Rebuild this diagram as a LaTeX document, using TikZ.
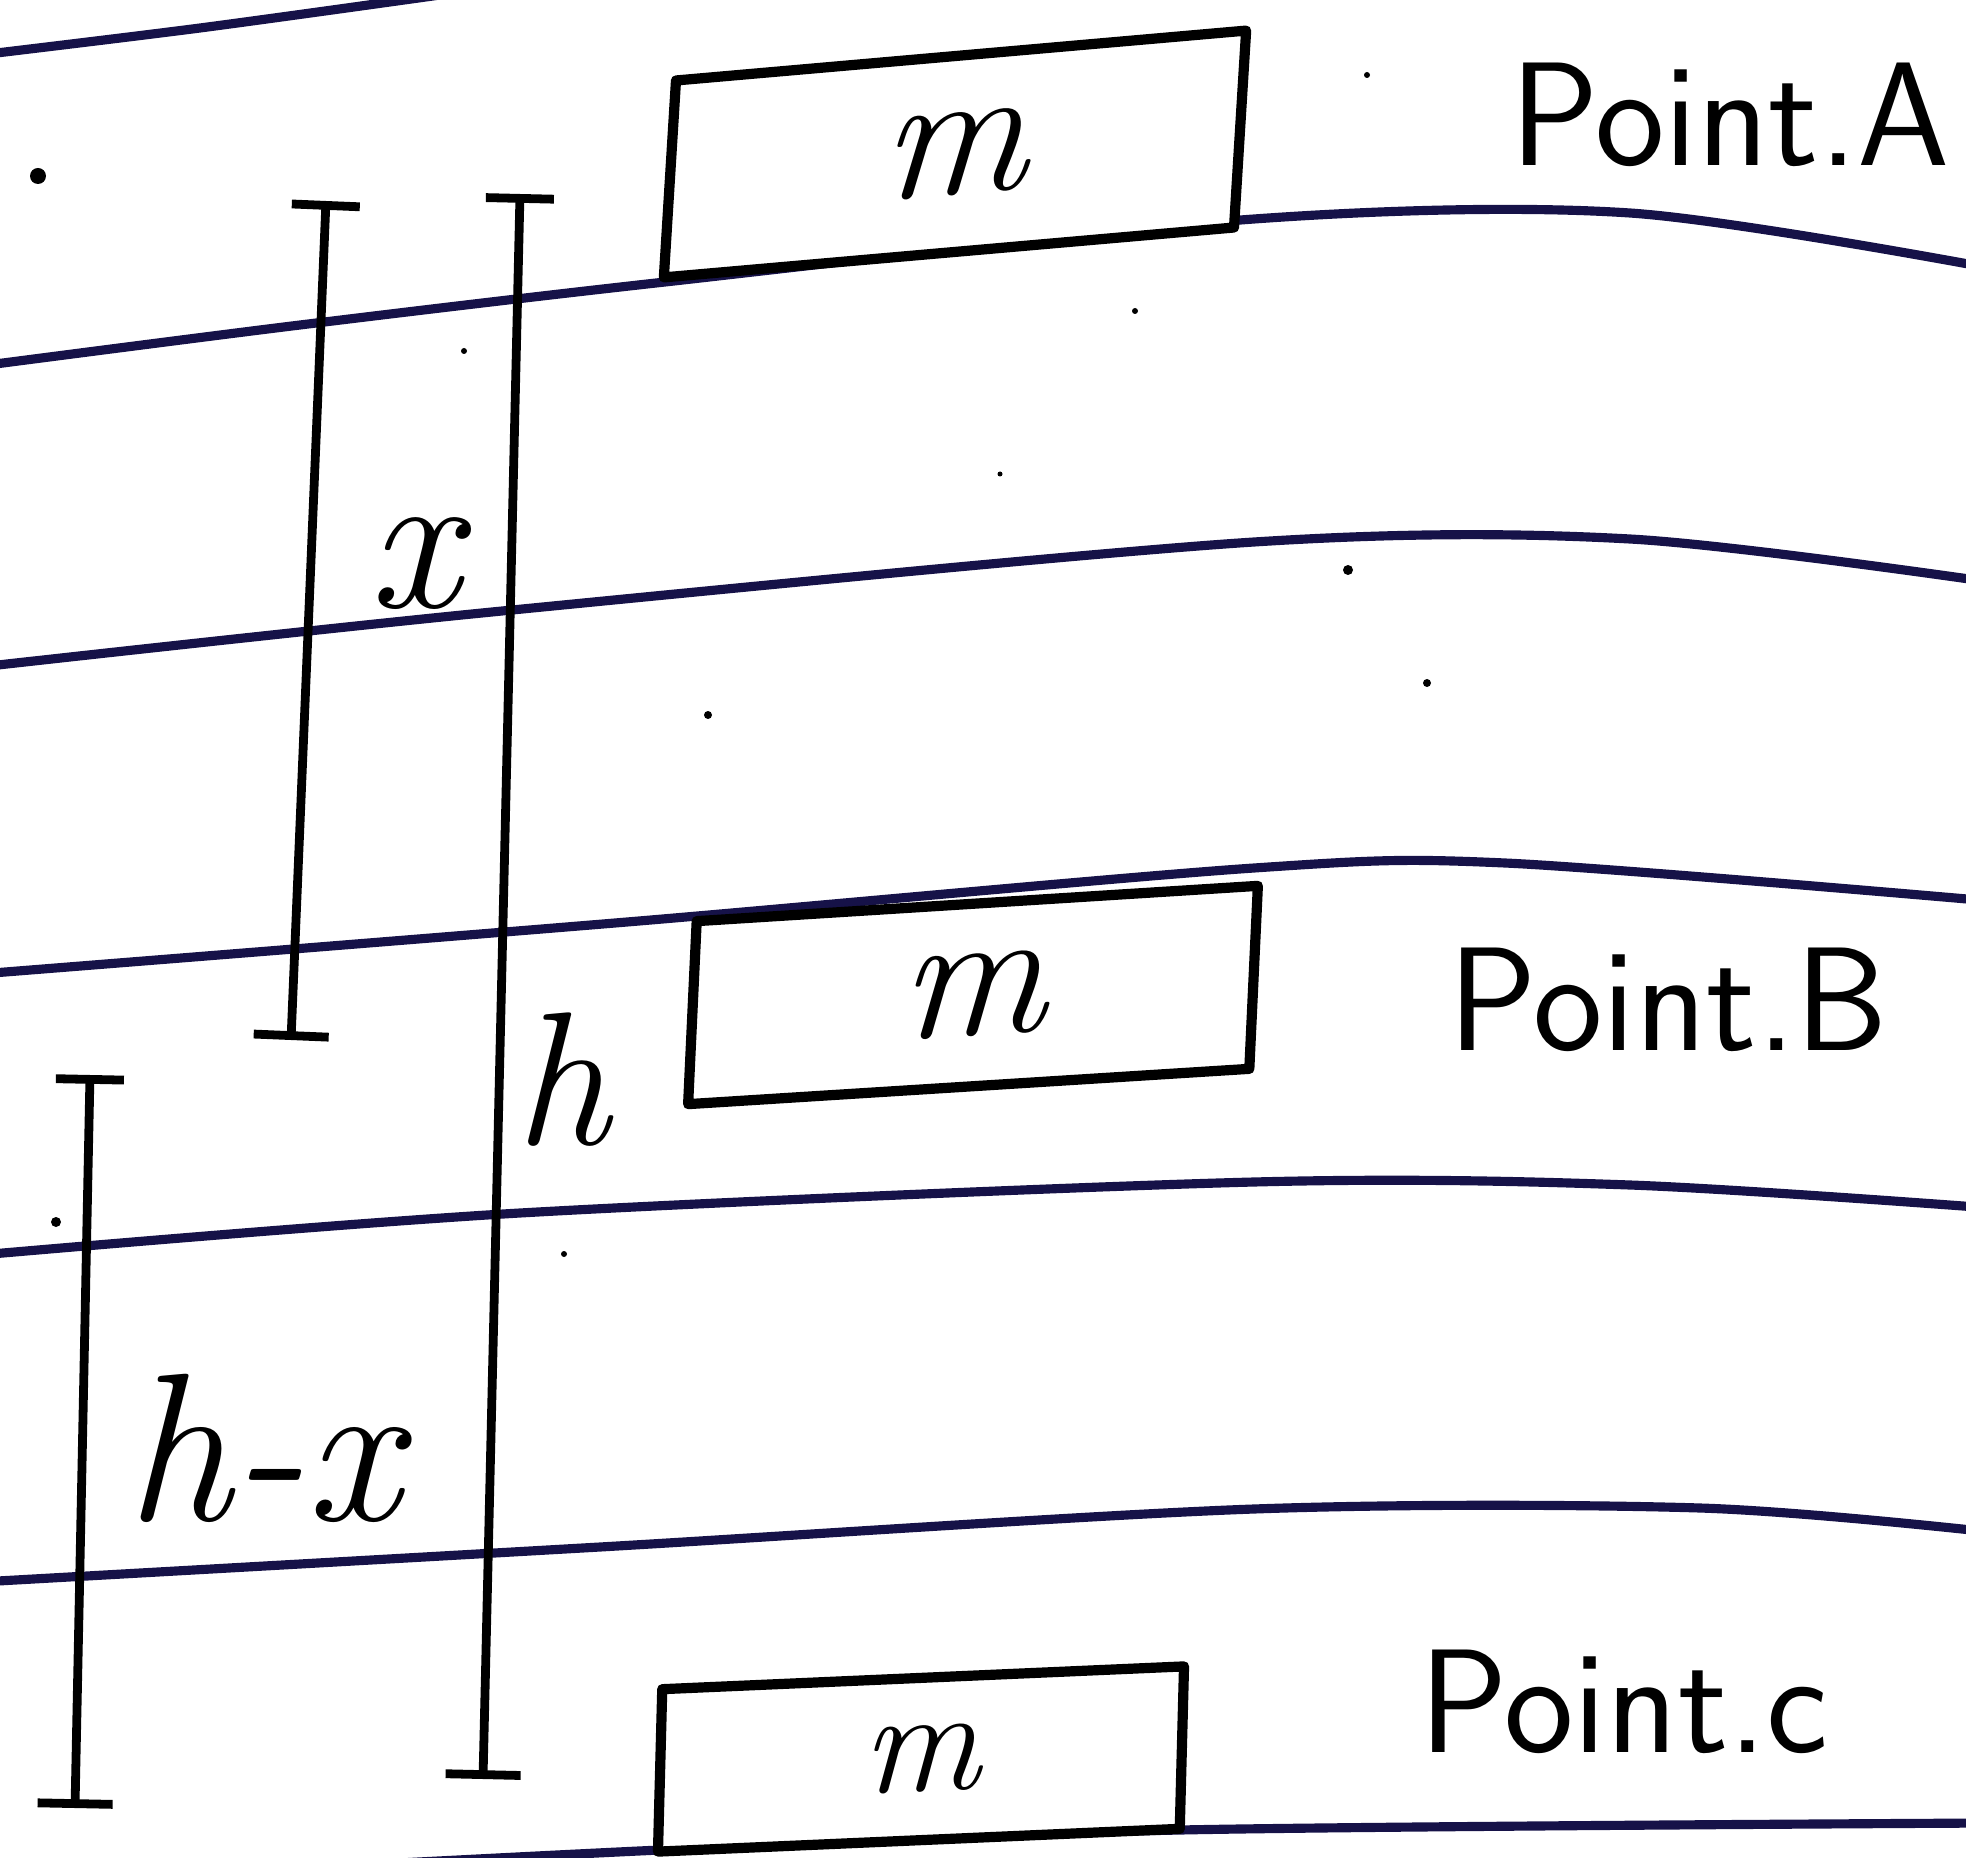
\documentclass[tikz,border=0pt]{standalone}
\usepackage{fontspec}
\usetikzlibrary{arrows.meta}
\usetikzlibrary{calc}
\definecolor{rule_ink}{RGB}{22,18,72}

\begin{document}
\begin{tikzpicture}[x=0.01cm, y=-0.01cm, line cap=round, line join=round,
        rule_style/.style={draw=rule_ink, line width=2.6pt},
        box_style/.style={draw=black, fill=white, line width=2.9pt, inner sep=0pt, font=\itshape\fontsize{52}{56}\selectfont},
        point_style/.style={font=\sffamily\fontsize{42}{46}\selectfont},
        sym_style/.style={font=\itshape\fontsize{58}{62}\selectfont},
        dim_style/.style={draw=black, line width=2.5pt, {Bar[width=0.68cm]}-{Bar[width=0.75cm]}},
        speck_style/.style={fill=black}]

        \useasboundingbox (0,0) rectangle (1966,1858);
        \clip (0,0) rectangle (1966,1858);

        % ruled lines of the paper
        \draw [rule_style] plot[smooth] coordinates {(-20,55) (200,28) (440,-5)};
        \draw [rule_style] plot[smooth] coordinates {(-20,366) (300,325) (665,282) (1254,219) (1630,213) (1990,268)};
        \draw [rule_style] plot[smooth] coordinates {(-20,667) (502,611) (1254,542) (1630,539) (1990,582)};
        \draw [rule_style] plot[smooth] coordinates {(-20,974) (627,922) (1254,868) (1505,863) (1990,901)};
        \draw [rule_style] plot[smooth] coordinates {(-20,1255) (520,1213) (1254,1182) (1630,1185) (1990,1208)};
        \draw [rule_style] plot[smooth] coordinates {(-20,1582) (600,1547) (1254,1509) (1700,1508) (1990,1532)};
        \draw [rule_style] plot[smooth] coordinates {(-20,1885) (660,1850) (1180,1830) (1990,1823)};

        % specks
        \fill [speck_style] (38,176) circle (8);
        \fill [speck_style] (1367,75) circle (3);
        \fill [speck_style] (1135,311) circle (3);
        \fill [speck_style] (464,351) circle (3);
        \fill [speck_style] (1000,474) circle (2.5);
        \fill [speck_style] (1348,570) circle (5);
        \fill [speck_style] (1427,683) circle (4);
        \fill [speck_style] (708,715) circle (4);
        \fill [speck_style] (56,1222) circle (5);
        \fill [speck_style] (564,1254) circle (3);

        % the three positions of the mass
        \node [box_style, rotate=5, xslant=0.15, minimum width=5.72cm, minimum height=1.95cm] (boxA) at (955,154) {m};

        \node [box_style, rotate=3.6, xslant=0.11, minimum width=5.62cm, minimum height=1.82cm] (boxB) at (973,995) {m};

        \node [box_style, rotate=2.5, xslant=0.07, minimum width=5.22cm, minimum height=1.62cm, font=\itshape\fontsize{42}{46}\selectfont] (boxC) at (921,1759) {m};

        \node [point_style] (pointA) at (1730,115) {Point.A};

        \node [point_style] (pointB) at (1668,1000) {Point.B};

        \node [point_style] (pointC) at (1624,1702) {Point.c};

        % heights
        \coordinate (xtop) at (326,201);
        \coordinate (xbot) at (291,1040);
        \coordinate (htop) at (520,194);
        \coordinate (hbot) at (483,1779);
        \coordinate (hxtop) at (90,1075);
        \coordinate (hxbot) at (75,1808);

        \draw [dim_style] (xtop) -- (xbot);

        \draw [dim_style] (htop) -- (hbot);

        \draw [dim_style] (hxtop) -- (hxbot);

        \node [sym_style] (xlab) at (414,564) {x};

        \node [sym_style, font=\itshape\fontsize{54}{58}\selectfont] (hlab) at (562,1080) {h};

        \node [sym_style, font=\itshape\fontsize{60}{64}\selectfont] (hxlab) at (263,1448) {h-x};

\end{tikzpicture}
\end{document}
